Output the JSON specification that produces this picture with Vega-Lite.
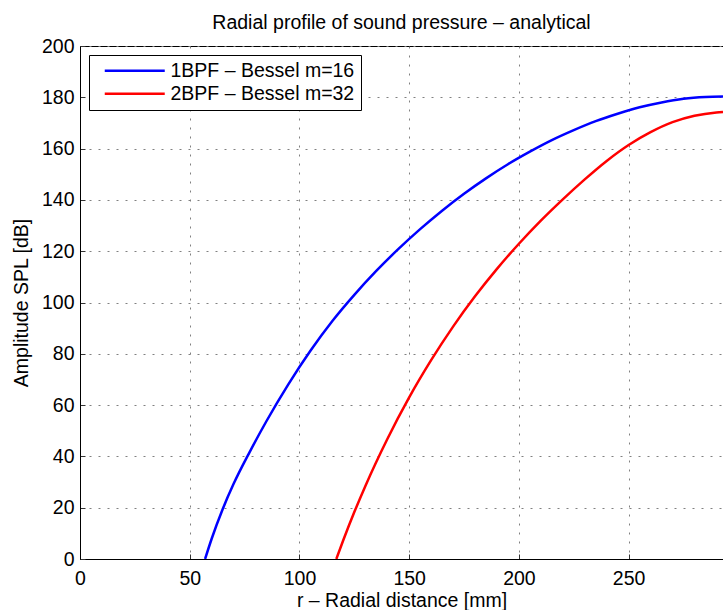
{
  "$schema": "https://vega.github.io/schema/vega-lite/v6.json",
  "width": 643,
  "height": 513,
  "autosize": {"type": "none"},
  "padding": {"left": 80, "top": 46, "right": 0, "bottom": 51},
  "background": "white",
  "config": {
    "font": "Liberation Sans",
    "view": {"stroke": "black", "strokeWidth": 1},
    "axis": {
      "grid": true,
      "gridDash": [2, 7],
      "gridColor": "#808080",
      "gridOpacity": 1,
      "gridWidth": 1,
      "domainColor": "black",
      "domainWidth": 1,
      "ticks": true,
      "tickSize": -5,
      "tickColor": "#333333",
      "tickWidth": 1,
      "labelColor": "black",
      "labelFontSize": 19.5,
      "labelFont": "Liberation Sans",
      "titleFont": "Liberation Sans",
      "titleFontSize": 19.5,
      "titleFontWeight": "normal",
      "titleColor": "black",
      "labelFlush": false,
      "labelOverlap": false
    }
  },
  "title": {
    "text": "Radial profile of sound pressure – analytical",
    "fontSize": 19.5,
    "fontWeight": "normal",
    "font": "Liberation Sans",
    "color": "black",
    "anchor": "middle",
    "offset": 3
  },
  "data": {
    "values": [
      {"r": 57, "spl": 0, "series": "1BPF – Bessel m=16"},
      {"r": 60, "spl": 7.9, "series": "1BPF – Bessel m=16"},
      {"r": 65, "spl": 19.4, "series": "1BPF – Bessel m=16"},
      {"r": 70, "spl": 29.3, "series": "1BPF – Bessel m=16"},
      {"r": 77, "spl": 41.2, "series": "1BPF – Bessel m=16"},
      {"r": 85, "spl": 53.8, "series": "1BPF – Bessel m=16"},
      {"r": 95, "spl": 68.2, "series": "1BPF – Bessel m=16"},
      {"r": 105, "spl": 81.2, "series": "1BPF – Bessel m=16"},
      {"r": 115, "spl": 92.8, "series": "1BPF – Bessel m=16"},
      {"r": 125, "spl": 103, "series": "1BPF – Bessel m=16"},
      {"r": 135, "spl": 112.3, "series": "1BPF – Bessel m=16"},
      {"r": 145, "spl": 120.8, "series": "1BPF – Bessel m=16"},
      {"r": 155, "spl": 128.6, "series": "1BPF – Bessel m=16"},
      {"r": 165, "spl": 135.8, "series": "1BPF – Bessel m=16"},
      {"r": 175, "spl": 142.4, "series": "1BPF – Bessel m=16"},
      {"r": 185, "spl": 148.4, "series": "1BPF – Bessel m=16"},
      {"r": 195, "spl": 153.9, "series": "1BPF – Bessel m=16"},
      {"r": 205, "spl": 158.8, "series": "1BPF – Bessel m=16"},
      {"r": 215, "spl": 163.3, "series": "1BPF – Bessel m=16"},
      {"r": 225, "spl": 167.2, "series": "1BPF – Bessel m=16"},
      {"r": 235, "spl": 170.7, "series": "1BPF – Bessel m=16"},
      {"r": 245, "spl": 173.6, "series": "1BPF – Bessel m=16"},
      {"r": 255, "spl": 176.1, "series": "1BPF – Bessel m=16"},
      {"r": 265, "spl": 178.0, "series": "1BPF – Bessel m=16"},
      {"r": 275, "spl": 179.4, "series": "1BPF – Bessel m=16"},
      {"r": 285, "spl": 180.1, "series": "1BPF – Bessel m=16"},
      {"r": 293, "spl": 180.3, "series": "1BPF – Bessel m=16"},
      {"r": 116.8, "spl": 0, "series": "2BPF – Bessel m=32"},
      {"r": 120, "spl": 7.4, "series": "2BPF – Bessel m=32"},
      {"r": 125, "spl": 18.3, "series": "2BPF – Bessel m=32"},
      {"r": 130, "spl": 28.4, "series": "2BPF – Bessel m=32"},
      {"r": 140, "spl": 46.7, "series": "2BPF – Bessel m=32"},
      {"r": 150, "spl": 63, "series": "2BPF – Bessel m=32"},
      {"r": 160, "spl": 77.5, "series": "2BPF – Bessel m=32"},
      {"r": 170, "spl": 90.6, "series": "2BPF – Bessel m=32"},
      {"r": 180, "spl": 102.4, "series": "2BPF – Bessel m=32"},
      {"r": 190, "spl": 113.1, "series": "2BPF – Bessel m=32"},
      {"r": 200, "spl": 122.9, "series": "2BPF – Bessel m=32"},
      {"r": 210, "spl": 131.9, "series": "2BPF – Bessel m=32"},
      {"r": 220, "spl": 140.2, "series": "2BPF – Bessel m=32"},
      {"r": 230, "spl": 148.0, "series": "2BPF – Bessel m=32"},
      {"r": 240, "spl": 155.2, "series": "2BPF – Bessel m=32"},
      {"r": 250, "spl": 161.4, "series": "2BPF – Bessel m=32"},
      {"r": 260, "spl": 166.4, "series": "2BPF – Bessel m=32"},
      {"r": 270, "spl": 170.3, "series": "2BPF – Bessel m=32"},
      {"r": 280, "spl": 172.8, "series": "2BPF – Bessel m=32"},
      {"r": 290, "spl": 174.1, "series": "2BPF – Bessel m=32"},
      {"r": 293, "spl": 174.3, "series": "2BPF – Bessel m=32"}
    ]
  },
  "mark": {"type": "line", "strokeWidth": 2.5, "interpolate": "monotone", "clip": true},
  "encoding": {
    "x": {
      "field": "r",
      "type": "quantitative",
      "scale": {"domain": [0, 293], "nice": false, "zero": false},
      "axis": {
        "title": "r – Radial distance [mm]",
        "values": [0, 50, 100, 150, 200, 250],
        "labelPadding": 15,
        "titlePadding": 4
      }
    },
    "y": {
      "field": "spl",
      "type": "quantitative",
      "scale": {"domain": [0, 200], "nice": false},
      "axis": {
        "title": "Amplitude SPL [dB]",
        "values": [0, 20, 40, 60, 80, 100, 120, 140, 160, 180, 200],
        "labelPadding": 11,
        "titlePadding": 10
      }
    },
    "color": {
      "field": "series",
      "type": "nominal",
      "scale": {
        "domain": ["1BPF – Bessel m=16", "2BPF – Bessel m=32"],
        "range": ["#0000ff", "#ff0000"]
      },
      "legend": {
        "orient": "none",
        "legendX": 9,
        "legendY": 9,
        "title": null,
        "symbolType": "M-5,0H5",
        "symbolSize": 144,
        "symbolStrokeWidth": 2.5,
        "symbolOffset": 30,
        "labelOffset": 26,
        "labelFontSize": 19.5,
        "labelFont": "Liberation Sans",
        "labelColor": "black",
        "labelLimit": 400,
        "strokeColor": "black",
        "fillColor": "white",
        "padding": 6,
        "rowPadding": 2
      }
    }
  }
}
